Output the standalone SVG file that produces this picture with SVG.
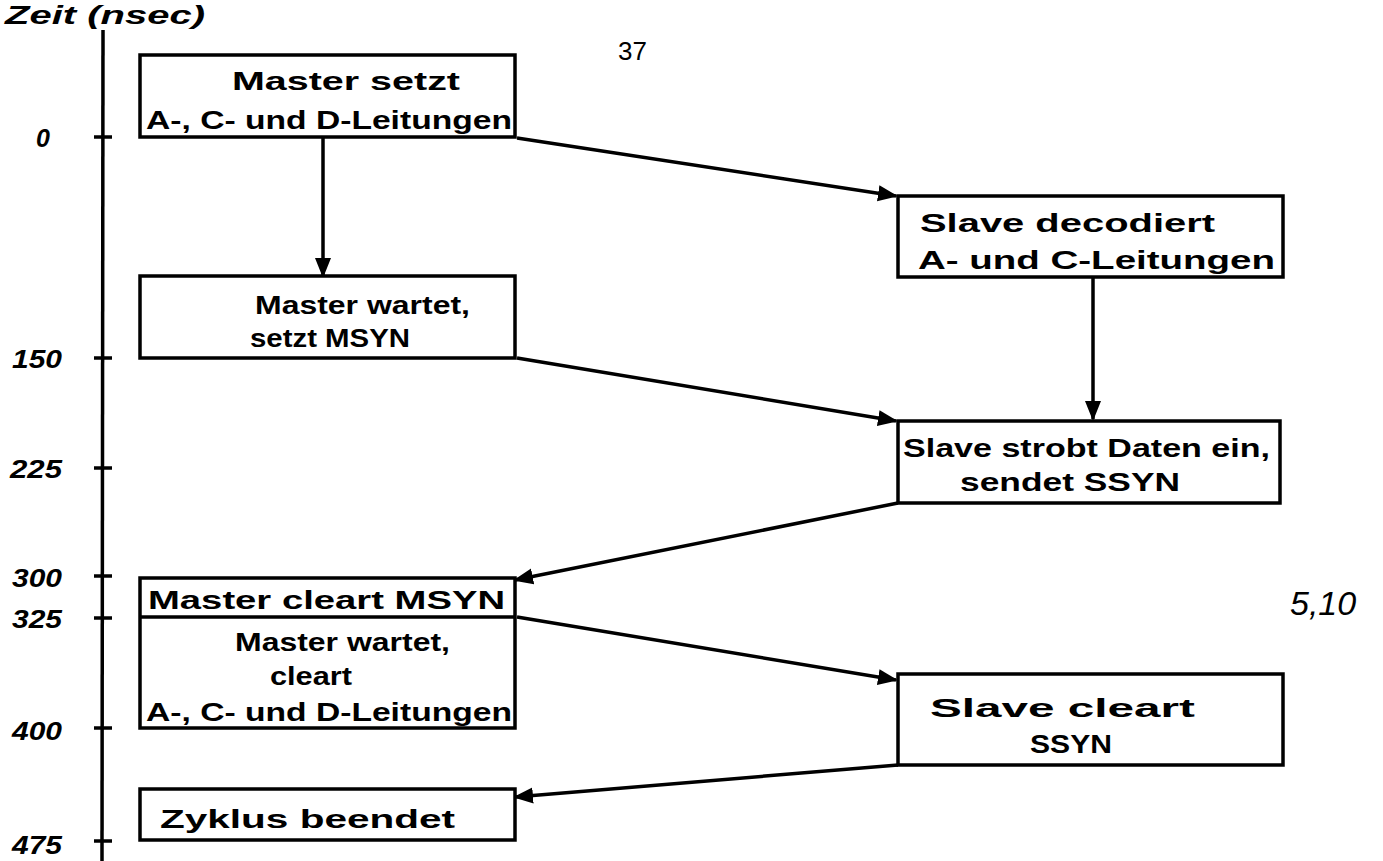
<svg xmlns="http://www.w3.org/2000/svg" width="1383" height="861" viewBox="0 0 1383 861">
<style>
.box{fill:#fff;stroke:#000;stroke-width:3.5}
.t{font-family:"Liberation Sans",Arial,sans-serif;font-weight:bold;font-size:26px;fill:#000}
.ax{font-family:"Liberation Sans",Arial,sans-serif;font-weight:bold;font-style:italic;font-size:25px;fill:#000}
.c{stroke:#000;stroke-width:3.5;fill:none;marker-end:url(#ah)}
.axis{stroke:#000;stroke-width:3.5;fill:none}
</style>
<defs>
<marker id="ah" markerUnits="userSpaceOnUse" markerWidth="22" markerHeight="20" refX="18" refY="10" orient="auto">
<path d="M0,2 L20,10 L0,18 Z" fill="#000"/>
</marker>
</defs>
<rect width="1383" height="861" fill="#fff"/>
<g id="axis">
<text class="ax" x="5" y="24" font-size="21" textLength="200" lengthAdjust="spacingAndGlyphs">Zeit (nsec)</text>
<line class="axis" x1="103" y1="30" x2="102" y2="861"/>
<line class="axis" x1="94" y1="137" x2="112" y2="137"/>
<line class="axis" x1="94" y1="358" x2="112" y2="358"/>
<line class="axis" x1="94" y1="468" x2="112" y2="468"/>
<line class="axis" x1="94" y1="576" x2="112" y2="576"/>
<line class="axis" x1="94" y1="618" x2="112" y2="618"/>
<line class="axis" x1="94" y1="728" x2="112" y2="728"/>
<line class="axis" x1="94" y1="841" x2="112" y2="841"/>
<text class="ax" x="36" y="147">0</text>
<text class="ax" x="12" y="368" textLength="50" lengthAdjust="spacingAndGlyphs">150</text>
<text class="ax" x="10" y="478" textLength="52" lengthAdjust="spacingAndGlyphs">225</text>
<text class="ax" x="12" y="587" textLength="50" lengthAdjust="spacingAndGlyphs">300</text>
<text class="ax" x="12" y="628" textLength="50" lengthAdjust="spacingAndGlyphs">325</text>
<text class="ax" x="12" y="740" textLength="50" lengthAdjust="spacingAndGlyphs">400</text>
<text class="ax" x="12" y="854" textLength="50" lengthAdjust="spacingAndGlyphs">475</text>
</g>
<text x="618" y="60" font-family="Liberation Sans,Arial,sans-serif" font-size="26" fill="#000">37</text>
<text x="1290" y="615" font-family="Liberation Sans,Arial,sans-serif" font-size="34" font-style="italic" fill="#000">5,10</text>
<g id="connectors">
<line class="c" x1="323" y1="137" x2="323" y2="276"/>
<line class="c" x1="517" y1="138" x2="896" y2="196"/>
<line class="c" x1="517" y1="358" x2="896" y2="421"/>
<line class="c" x1="1093" y1="277" x2="1093" y2="419"/>
<line class="c" x1="898" y1="503" x2="515" y2="580"/>
<line class="c" x1="517" y1="617" x2="896" y2="680"/>
<line class="c" x1="898" y1="765" x2="515" y2="797"/>
</g>
<g id="n1">
<rect class="box" x="140" y="55" width="375" height="82"/>
<text class="t" x="232" y="90" textLength="228" lengthAdjust="spacingAndGlyphs">Master setzt</text>
<text class="t" x="146" y="129" textLength="366" lengthAdjust="spacingAndGlyphs">A-, C- und D-Leitungen</text>
</g>
<g id="n2">
<rect class="box" x="140" y="276" width="375" height="82"/>
<text class="t" x="255" y="314" textLength="215" lengthAdjust="spacingAndGlyphs">Master wartet,</text>
<text class="t" x="250" y="347" textLength="160" lengthAdjust="spacingAndGlyphs">setzt MSYN</text>
</g>
<g id="n3">
<rect class="box" x="898" y="196" width="385" height="81"/>
<text class="t" x="920" y="232" textLength="295" lengthAdjust="spacingAndGlyphs">Slave decodiert</text>
<text class="t" x="918" y="269" textLength="357" lengthAdjust="spacingAndGlyphs">A- und C-Leitungen</text>
</g>
<g id="n4">
<rect class="box" x="898" y="421" width="382" height="82"/>
<text class="t" x="903" y="457" textLength="367" lengthAdjust="spacingAndGlyphs">Slave strobt Daten ein,</text>
<text class="t" x="960" y="491" textLength="220" lengthAdjust="spacingAndGlyphs">sendet SSYN</text>
</g>
<g id="n5">
<rect class="box" x="140" y="578" width="375" height="150"/>
<line class="box" x1="140" y1="617" x2="515" y2="617"/>
<text class="t" x="148" y="609" textLength="357" lengthAdjust="spacingAndGlyphs">Master cleart MSYN</text>
<text class="t" x="235" y="651" textLength="215" lengthAdjust="spacingAndGlyphs">Master wartet,</text>
<text class="t" x="270" y="685" textLength="82" lengthAdjust="spacingAndGlyphs">cleart</text>
<text class="t" x="146" y="721" textLength="366" lengthAdjust="spacingAndGlyphs">A-, C- und D-Leitungen</text>
</g>
<g id="n6">
<rect class="box" x="898" y="674" width="385" height="91"/>
<text class="t" x="930" y="717" textLength="265" lengthAdjust="spacingAndGlyphs">Slave cleart</text>
<text class="t" x="1030" y="753" textLength="82" lengthAdjust="spacingAndGlyphs">SSYN</text>
</g>
<g id="n7">
<rect class="box" x="140" y="789" width="375" height="51"/>
<text class="t" x="160" y="828" textLength="295" lengthAdjust="spacingAndGlyphs">Zyklus beendet</text>
</g>
</svg>
